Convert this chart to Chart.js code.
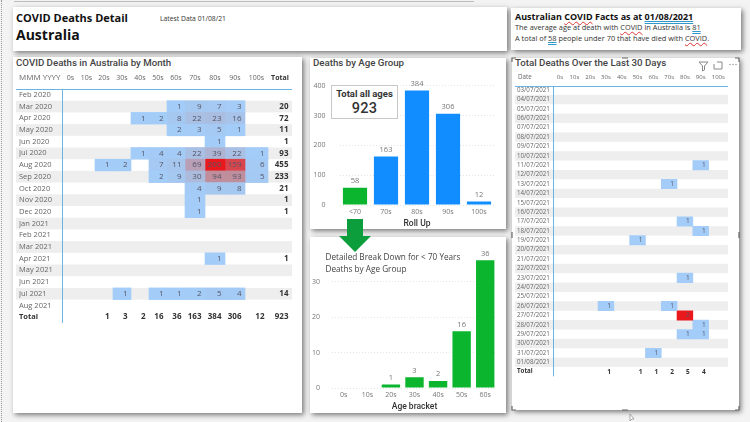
<!DOCTYPE html>
<html>
<head>
<meta charset="utf-8">
<title>COVID Deaths Detail</title>
<script src="https://cdn.jsdelivr.net/npm/chart.js@4/dist/chart.umd.min.js"></script>
<style>
html, body { margin: 0; padding: 0; }
body { width: 750px; height: 422px; position: relative; overflow: hidden; background: #f3f3f3; font-family: "Open Sans", sans-serif; }
.panel { position: absolute; background: #fff; box-shadow: 2px 2px 5px rgba(0,0,0,.5); }
canvas { position: absolute; }
.txt { position: absolute; white-space: nowrap; color: #333; }
.din { font-family: Roboto, sans-serif; font-weight: 500; color: #444; font-size: 9.7px; }
.sp { text-decoration: underline wavy #d33; text-decoration-thickness: 1px; text-underline-offset: 1px; }
.gr { text-decoration: underline double #39c; text-decoration-thickness: 1px; text-underline-offset: 1px; }
</style>
</head>
<body>
<div style="position:absolute;left:1px;top:0;height:422px;border-left:1px dotted #999"></div>
<div style="position:absolute;left:14px;top:1px;width:460px;border-top:1px solid #bbb"></div>
<div class="panel" style="left:13px;top:7px;width:494px;height:44px"></div>
<div class="panel" style="left:511px;top:8px;width:230px;height:42px"></div>
<div class="panel" style="left:13px;top:57px;width:289px;height:356px"></div>
<div class="panel" style="left:310px;top:58px;width:196px;height:171px"></div>
<div class="panel" style="left:310px;top:237px;width:196px;height:176px"></div>
<div class="panel" style="left:512px;top:58px;width:227px;height:352px"></div>

<div class="txt" style="left:16px;top:10px;font-size:11px;font-weight:700;color:#111">COVID Deaths Detail</div>
<div class="txt" style="left:160px;top:14px;font-size:6.8px;color:#333">Latest Data 01/08/21</div>
<div class="txt" style="left:16px;top:25px;font-size:14px;font-weight:700;color:#111">Australia</div>
<div class="txt" style="left:515px;top:10px;font-size:9px;font-weight:700;color:#111">Australian <span class="sp">COVID</span> Facts as at <span class="gr">01/08/2021</span></div>
<div class="txt" style="left:515px;top:22px;font-size:7.4px">The average age at death with <span class="sp">COVID</span> in Australia is <span class="gr">81</span></div>
<div class="txt" style="left:515px;top:33px;font-size:7.4px">A total of <span class="gr">58</span> people under 70 that have died with <span class="sp">COVID</span>.</div>

<div class="txt din" style="left:16px;top:57px">COVID Deaths in Australia by Month</div>
<div class="txt din" style="left:313px;top:57px">Deaths by Age Group</div>
<div class="txt din" style="left:515px;top:57px">Total Deaths Over the Last 30 Days</div>
<div class="txt" style="left:325.5px;top:251px;font-size:8.2px;color:#444;line-height:11.5px;z-index:3">Detailed Break Down for &lt; 70 Years<br>Deaths by Age Group</div>

<canvas id="monthChart" width="289" height="284" style="left:13px;top:56px"></canvas>
<canvas id="rollUpChart" width="196" height="171" style="left:310px;top:58px"></canvas>
<canvas id="bracketChart" width="196" height="176" style="left:310px;top:237px"></canvas>
<canvas id="dailyChart" width="227" height="330" style="left:512px;top:58px"></canvas>

<div style="position:absolute;left:331px;top:85px;width:65px;height:32px;background:#fff;border:1px solid #c8c8c8;text-align:center;color:#333;z-index:2">
  <div style="font:700 9.5px Roboto,sans-serif;margin-top:2px">Total all ages</div>
  <div style="font:500 14.5px Roboto,sans-serif;margin-top:1px;letter-spacing:.3px">923</div>
</div>

<svg width="750" height="422" style="position:absolute;left:0;top:0;z-index:2;pointer-events:none">
  <polygon points="347,219 363,219 363,236 371,236 355,252 339,236 347,236" fill="#0c9e3c"/>
  <g fill="none" stroke="#888" stroke-width="1">
    <path d="M699 62h9l-3.5 4v4l-2 1v-5z"/>
    <path d="M714 64v5h8v-7h-5"/>
  </g>
  <g fill="#888"><circle cx="730" cy="64.5" r=".7"/><circle cx="733" cy="64.5" r=".7"/><circle cx="736" cy="64.5" r=".7"/></g>
  <g fill="none" stroke="#666" stroke-width="1.2">
    <path d="M512 62v-4h4M735 58h4v4M512 406v4h4M735 410h4v-4"/>
    <path d="M622 58h6M622 410h6M512 232v6M739 232v6"/>
  </g>
  <path d="M630 414l0 7l2-2l2 0z" fill="#fff" stroke="#888" stroke-width=".7"/>
</svg>

<script>
// heat table 1
const months = ['Feb 2020','Mar 2020','Apr 2020','May 2020','Jun 2020','Jul 2020','Aug 2020','Sep 2020','Oct 2020','Nov 2020','Dec 2020','Jan 2021','Feb 2021','Mar 2021','Apr 2021','May 2021','Jun 2021','Jul 2021','Aug 2021'];
const ageBrackets = ['0s','10s','20s','30s','40s','50s','60s','70s','80s','90s','100s'];
const monthCounts = [
    [],
    [,,,,,,1,9,7,3],
    [,,,,1,2,8,22,23,16],
    [,,,,,,2,3,5,1],
    [,,,,,,,,1],
    [,,,,1,4,4,22,39,22,1],
    [,,1,2,,7,11,69,200,159,6],
    [,,,,,2,9,30,94,93,5],
    [,,,,,,,4,9,8],
    [,,,,,,,1],
    [,,,,,,,1],
    [],
    [],
    [],
    [,,,,,,,,1],
    [],
    [],
    [,,,1,,1,1,2,5,4],
    []
];
const monthRowTotals = [null,20,72,11,1,93,455,233,21,1,1,null,null,null,1,null,null,14,null];
const monthColTotals = [null,null,1,3,2,16,36,163,384,306,12];
const monthGrandTotal = 923;

// heat table 2
const days = ['03/07/2021','04/07/2021','05/07/2021','06/07/2021','07/07/2021','08/07/2021','09/07/2021','10/07/2021','11/07/2021','12/07/2021','13/07/2021','14/07/2021','15/07/2021','16/07/2021','17/07/2021','18/07/2021','19/07/2021','20/07/2021','21/07/2021','22/07/2021','23/07/2021','24/07/2021','25/07/2021','26/07/2021','27/07/2021','28/07/2021','29/07/2021','30/07/2021','31/07/2021','01/08/2021'];
const dayCounts = [
    [],[],[],[],[],[],[],[],
    [,,,,,,,,,1],
    [],
    [,,,,,,,1],
    [],[],[],
    [,,,,,,,,1],
    [,,,,,,,,,1],
    [,,,,,1],
    [],[],[],
    [,,,,,,,,1],
    [],[],
    [,,,1,,,,1],
    [,,,,,,,,2],
    [,,,,,,,,,1],
    [,,,,,,,,1,1],
    [],
    [,,,,,,1],
    []
];
const dayColTotals = [null,null,null,1,null,1,1,2,5,4,null];

// bar charts
const rollUpLabels = ['<70','70s','80s','90s','100s'];
const rollUpValues = [58,163,384,306,12];
const bracketLabels = ['0s','10s','20s','30s','40s','50s','60s'];
const bracketValues = [null,null,1,3,2,16,36];

const GREY = '#666';
const BLUE = '#118dff';
const GREEN = '#0bb52e';
const RULE = '#6db3e2';
const FONT = '"Open Sans", sans-serif';

function mix(a, b, t) {
    return 'rgb(' + a.map((v, i) => Math.round(v + (b[i] - v) * t)).join(',') + ')';
}

// low counts are pale blue, then washed purple, then full red at the top of the range
function heatColour(v, top) {
    const t = Math.min((v - 1) / (top - 1), 1);
    if (t < 0.45) return mix([163,205,248], [190,145,160], t / 0.45);
    return mix([190,145,160], [232,24,28], (t - 0.45) / 0.55);
}

const cellText = {
    id: 'cellText',
    afterDatasetsDraw(chart) {
        const ctx = chart.ctx;
        ctx.save();
        ctx.textAlign = 'right';
        ctx.textBaseline = 'middle';
        chart.data.datasets.forEach((ds, d) => {
            chart.getDatasetMeta(d).data.forEach((el, r) => {
                const n = ds.counts[r];
                if (n == null) return;
                const bold = ds.isTotal || r === chart.data.labels.length - 1;
                ctx.font = (bold ? '700 ' : '') + ds.textSize + 'px ' + FONT;
                ctx.fillStyle = bold ? '#333' : '#556';
                ctx.fillText(n, el.x - ds.textPad, el.y);
            });
        });
        ctx.restore();
    }
};

const tableChrome = {
    id: 'tableChrome',
    beforeDraw(chart, args, opts) {
        const ctx = chart.ctx, y = chart.scales.y, area = chart.chartArea;
        const rowH = y.getPixelForValue(1) - y.getPixelForValue(0);
        ctx.save();
        ctx.fillStyle = '#eeeeee';
        for (let r = opts.firstStripe; r < chart.data.labels.length - 1; r += 2) {
            ctx.fillRect(opts.left, y.getPixelForValue(r) - rowH / 2, area.right - opts.left, rowH);
        }
        ctx.restore();
    },
    afterDraw(chart, args, opts) {
        const ctx = chart.ctx, area = chart.chartArea;
        const lineY = Math.round(area.top) + 0.5, lineX = Math.round(area.left) - 0.5;
        ctx.save();
        ctx.strokeStyle = RULE;
        ctx.lineWidth = 1;
        ctx.beginPath();
        ctx.moveTo(opts.left, lineY);
        ctx.lineTo(area.right, lineY);
        ctx.moveTo(lineX, lineY);
        ctx.lineTo(lineX, area.bottom);
        ctx.stroke();
        ctx.font = opts.headSize + 'px ' + FONT;
        ctx.fillStyle = GREY;
        ctx.textBaseline = 'middle';
        ctx.fillText(opts.head, opts.headX, opts.headY);
        ctx.restore();
    }
};

// one dataset per column, each bar floats across its column on a linear x scale
function heatChart(id, rowLabels, colLabels, rows, colTotals, rowTotals, grandTotal, colWidths, cfg) {
    const edges = colWidths.reduce((acc, w) => { acc.push(acc[acc.length - 1] + w); return acc; }, [0]);
    const labels = rowLabels.concat('Total');
    const heads = colLabels.concat(rowTotals ? 'Total' : []);
    const datasets = heads.map((name, c) => {
        const isTotal = c === colLabels.length;
        const counts = labels.map((l, r) => {
            if (r === rowLabels.length) return isTotal ? grandTotal : colTotals[c];
            return isTotal ? rowTotals[r] : rows[r][c];
        });
        return {
            label: name,
            isTotal: isTotal,
            counts: counts,
            textSize: cfg.textSize,
            textPad: cfg.textPad,
            data: counts.map(n => n == null ? null : [edges[c], edges[c + 1]]),
            backgroundColor: counts.map((n, r) => (isTotal || r === rowLabels.length || n == null) ? 'transparent' : heatColour(n, cfg.top)),
            barPercentage: 1,
            categoryPercentage: 1,
            grouped: false
        };
    });
    return new Chart(document.getElementById(id), {
        type: 'bar',
        data: { labels: labels, datasets: datasets },
        plugins: [tableChrome, cellText],
        options: {
            indexAxis: 'y',
            responsive: false,
            animation: false,
            layout: { padding: cfg.padding },
            plugins: {
                legend: { display: false },
                tooltip: { enabled: false },
                tableChrome: cfg.chrome
            },
            scales: {
                x: {
                    type: 'linear',
                    position: 'top',
                    min: 0,
                    max: edges[edges.length - 1],
                    grid: { display: false, drawTicks: false },
                    border: { display: false },
                    afterFit: s => { s.height = cfg.headH; },
                    afterBuildTicks: s => {
                        s.ticks = heads.map((h, c) => ({ value: (edges[c] + edges[c + 1]) / 2 }));
                    },
                    ticks: {
                        autoSkip: false,
                        maxRotation: 0,
                        padding: cfg.headPad,
                        color: c => c.index === colLabels.length ? '#333' : GREY,
                        font: c => ({ family: FONT, size: cfg.headSize, weight: c.index === colLabels.length ? '700' : '400' }),
                        callback: (v, i) => heads[i]
                    }
                },
                y: {
                    type: 'category',
                    grid: { display: false, drawTicks: false },
                    border: { display: false },
                    afterFit: s => { s.width = cfg.labelW; },
                    ticks: {
                        autoSkip: false,
                        crossAlign: 'far',
                        padding: 0,
                        color: c => c.index === rowLabels.length ? '#333' : GREY,
                        font: c => ({ family: FONT, size: cfg.rowSize, weight: c.index === rowLabels.length ? '700' : '400' })
                    }
                }
            }
        }
    });
}

heatChart('monthChart', months, ageBrackets, monthCounts, monthColTotals, monthRowTotals, monthGrandTotal,
    [15,17,18,18,18,18,18,20,20,20,23,24], {
        top: 200, textSize: 8, textPad: 3.5, headSize: 7, headPad: 7, rowSize: 7.5, headH: 33, labelW: 44,
        padding: { left: 6, right: 10, top: 0, bottom: 17 },
        chrome: { firstStripe: 1, left: 3, head: 'MMM YYYY', headX: 6, headY: 22, headSize: 8 }
    });

heatChart('dailyChart', days, ageBrackets, dayCounts, dayColTotals, null, null,
    [13,15.8,15.8,15.8,15.8,15.8,15.8,15.8,15.8,15.8,19.4], {
        top: 2, textSize: 6.5, textPad: 3, headSize: 6, headPad: 5, rowSize: 6.2, headH: 27.5, labelW: 36.5,
        padding: { left: 5, right: 11, top: 0, bottom: 11.6 },
        chrome: { firstStripe: 1, left: 3, head: 'Date', headX: 6, headY: 19, headSize: 6.2 }
    });

const barLabels = {
    id: 'barLabels',
    afterDatasetsDraw(chart) {
        const ctx = chart.ctx;
        ctx.save();
        ctx.font = '7.5px ' + FONT;
        ctx.fillStyle = '#777';
        ctx.textAlign = 'center';
        ctx.textBaseline = 'bottom';
        const vals = chart.data.datasets[0].data;
        chart.getDatasetMeta(0).data.forEach((el, i) => {
            if (vals[i] != null) ctx.fillText(vals[i], el.x, el.y - 3);
        });
        ctx.restore();
    }
};

function barChart(id, labels, values, colours, axisTitle, yMax, yStep, cfg) {
    return new Chart(document.getElementById(id), {
        type: 'bar',
        data: {
            labels: labels,
            datasets: [{ data: values, backgroundColor: colours, barPercentage: 0.78, categoryPercentage: 1 }]
        },
        plugins: [barLabels],
        options: {
            responsive: false,
            animation: false,
            layout: { padding: cfg.padding },
            plugins: { legend: { display: false }, tooltip: { enabled: false } },
            scales: {
                x: {
                    grid: { display: false, drawTicks: false },
                    border: { display: false },
                    afterFit: s => { s.height = cfg.bottomH; },
                    title: { display: true, text: axisTitle, color: '#333', padding: 0, font: { family: 'Roboto, sans-serif', size: 8.5, weight: '500' } },
                    ticks: { color: '#777', padding: 3, maxRotation: 0, font: { family: FONT, size: 7 } }
                },
                y: {
                    min: 0,
                    max: yMax,
                    afterFit: s => { s.width = cfg.leftW; },
                    grid: { color: '#e4e4e4', drawTicks: false },
                    border: { display: false, dash: [1,2] },
                    ticks: { stepSize: yStep, includeBounds: false, color: '#777', padding: cfg.yPad, font: { family: FONT, size: 7 } }
                }
            }
        }
    });
}

barChart('rollUpChart', rollUpLabels, rollUpValues, [GREEN, BLUE, BLUE, BLUE, BLUE], 'Roll Up', 400, 100, {
    leftW: 29.5, bottomH: 24, yPad: 14, padding: { left: 0, right: 11.5, top: 27.7, bottom: 0 }
});
barChart('bracketChart', bracketLabels, bracketValues, GREEN, 'Age bracket', 38, 10, {
    leftW: 22, bottomH: 24, yPad: 12, padding: { left: 0, right: 9, top: 14.2, bottom: 1 }
});
</script>
</body>
</html>
